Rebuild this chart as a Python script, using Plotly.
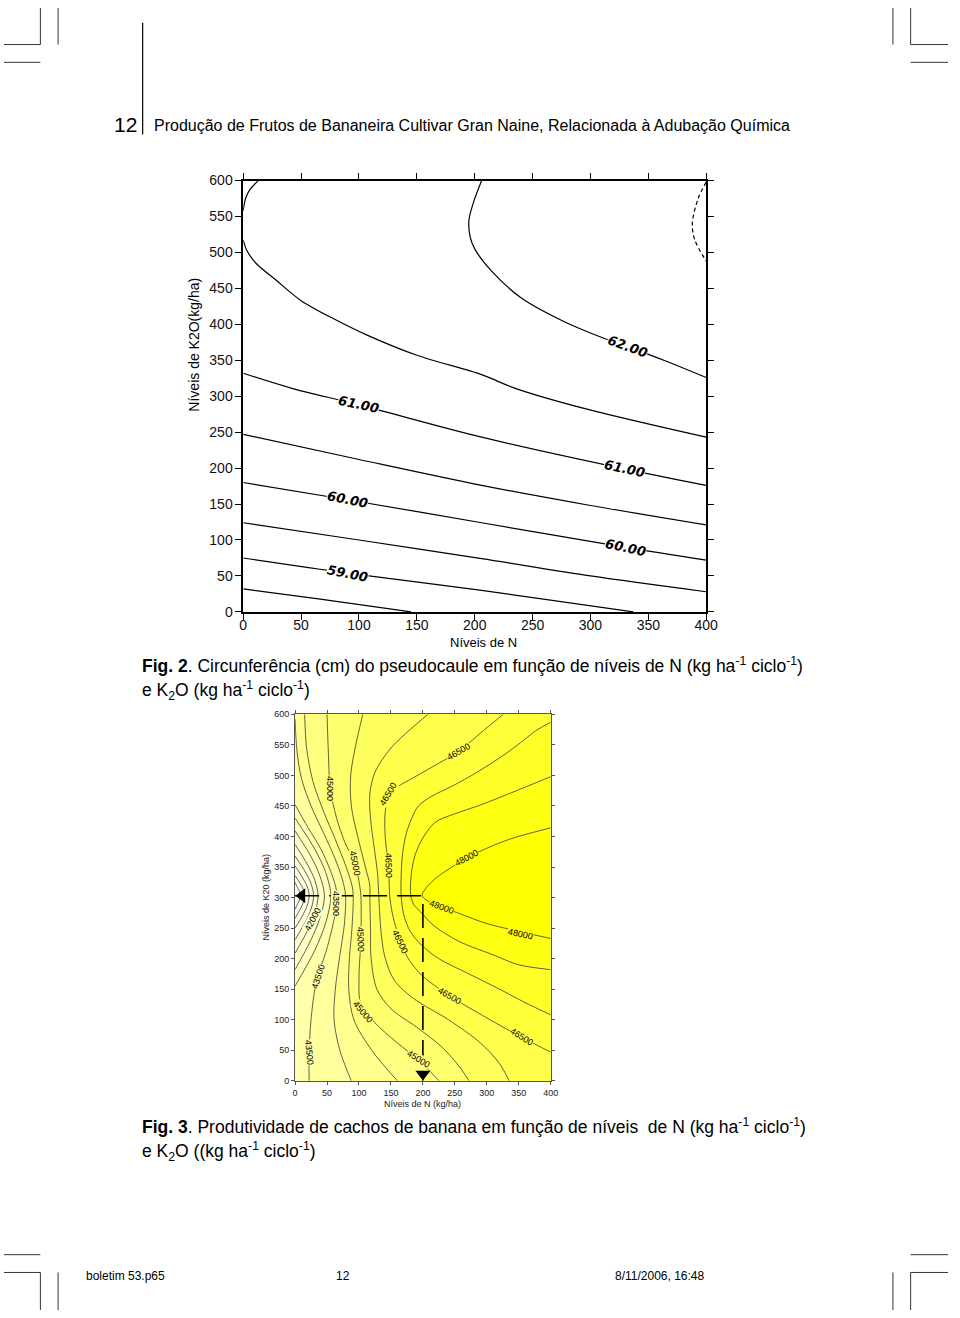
import plotly.graph_objects as go

PAGE_W, PAGE_H = 960, 1318
OFF = 0
W, H = PAGE_W - 2 * OFF, PAGE_H - 2 * OFF


def px(x):
    return (x - OFF) / W


def py(y):
    return 1 - (y - OFF) / H


# ---------------- Fig. 2 : circunferência (contour lines) ----------------
f2_xticks = [0, 50, 100, 150, 200, 250, 300, 350, 400]
f2_yticks = [0, 50, 100, 150, 200, 250, 300, 350, 400, 450, 500, 550, 600]

f2_5850_x = [0, 65, 145]
f2_5850_y = [32, 18, 0]
f2_5900_x = [0, 90, 206, 337]
f2_5900_y = [75, 54, 30, 0]
f2_5950_x = [0, 100, 206, 300, 400]
f2_5950_y = [124, 100, 74, 50, 28]
f2_6000_x = [0, 90, 206, 329, 400]
f2_6000_y = [180, 156, 124, 90, 72]
f2_6050_x = [0, 100, 206, 300, 400]
f2_6050_y = [247, 212, 176, 148, 121]
f2_6100_x = [0, 42, 100, 206, 329, 400]
f2_6100_y = [332, 311, 288, 243, 199, 176]
f2_6150_x = [0, 3, 11, 28, 50, 79, 107, 150, 206, 235, 297, 400]
f2_6150_y = [517, 503, 485, 462, 433, 407, 385, 357, 330, 311, 282, 243]
f2_6200a_x = [0, 2, 6, 13]
f2_6200a_y = [558, 575, 588, 600]
f2_6200b_x = [206, 199, 195, 196, 200, 214, 240, 277, 311, 332, 365, 400]
f2_6200b_y = [600, 570, 545, 522, 505, 475, 437, 404, 381, 369, 349, 326]
f2_6250_x = [400, 393, 388, 390, 400]
f2_6250_y = [598, 575, 540, 518, 488]

f2_lab_text = ["59.00", "60.00", "60.00", "61.00", "61.00", "62.00"]
f2_lab_x = [90, 90, 330, 100, 329, 332]
f2_lab_y = [53, 156, 89, 288, 199, 369]
f2_lab_ang = [11, 11, 12, 12, 12, 20]

# ---------------- Fig. 3 : produtividade (filled contours) ----------------
f3_xticks = [0, 50, 100, 150, 200, 250, 300, 350, 400]
f3_yticks = [0, 50, 100, 150, 200, 250, 300, 350, 400, 450, 500, 550, 600]
f3_levels = [40000, 40500, 41000, 41500, 42000, 42500, 43000, 43500, 44000, 44500,
             45000, 45500, 46000, 46500, 47000, 47500, 48000]

p40000_x = [0, 4, 7, 8, 7, 4, 0]
p40000_y = [325, 316, 310, 303, 296, 290, 281]
p40500_x = [0, 8, 13, 15, 13, 8, 0]
p40500_y = [336, 323, 313, 303, 292, 281, 266]
p41000_x = [0, 12, 19, 22, 19, 12, 0]
p41000_y = [352, 332, 318, 303, 287, 271, 250]
p41500_x = [0, 16, 25, 29, 25, 16, 0]
p41500_y = [368, 342, 323, 303, 281, 260, 231]
p42000_x = [0, 20, 31, 36, 31, 20, 0]
p42000_y = [387, 353, 328, 303, 275, 247, 209]
p42500_x = [0, 25, 39, 46, 39, 25, 0]
p42500_y = [409, 367, 335, 303, 267, 231, 182]
p43000_x = [0, 31, 48, 56, 48, 31, 0]
p43000_y = [430, 379, 341, 303, 259, 214, 155]
p43500_x = [0, 20, 40, 55, 63, 66, 64, 58, 48, 38, 31, 25, 22, 22]
p43500_y = [452, 415, 380, 345, 320, 303, 280, 250, 210, 180, 150, 100, 50, 0]
p44000_x = [0, 3, 10, 25, 45, 62, 74, 79, 77, 70, 63, 61, 70, 88]
p44000_y = [592, 540, 495, 450, 405, 365, 330, 303, 255, 205, 150, 100, 50, 0]
p44500_x = [15, 18, 28, 45, 63, 80, 89, 91, 89, 85, 84, 92, 120, 160]
p44500_y = [600, 545, 490, 440, 395, 350, 320, 303, 250, 200, 150, 100, 50, 0]
p45000_x = [50, 52, 55, 65, 78, 94, 101, 103, 103, 100, 103, 125, 160, 193, 225]
p45000_y = [600, 540, 479, 430, 390, 355, 320, 303, 231, 170, 125, 95, 62, 34, 0]
p45500_x = [106, 95, 87, 88, 98, 110, 117, 117, 118, 119, 128, 150, 190, 230, 258, 272]
p45500_y = [600, 550, 500, 450, 400, 350, 320, 303, 250, 200, 150, 118, 88, 55, 22, 0]
p46000_x = [208, 180, 150, 125, 117, 118, 124, 129, 131, 134, 140, 155, 185, 240, 290, 320, 335]
p46000_y = [600, 575, 545, 505, 470, 430, 380, 340, 303, 250, 205, 165, 135, 100, 62, 28, 0]
p46500_x = [326, 300, 255, 215, 183, 160, 147, 141, 141, 145, 147, 148, 152, 158, 165, 176,
            198, 242, 300, 355, 400]
p46500_y = [600, 578, 539, 514, 495, 481, 466, 440, 400, 360, 330, 303, 275, 250, 228, 202,
            173, 139, 103, 71, 47]
p47000_x = [400, 378, 337, 286, 245, 214, 193, 183, 174, 168, 166, 166, 170, 180, 198, 225,
            270, 320, 360, 400]
p47000_y = [587, 574, 541, 506, 482, 466, 450, 431, 405, 370, 335, 303, 272, 245, 222, 200,
            176, 150, 128, 108]
p47500_x = [400, 337, 286, 255, 219, 199, 188, 182, 181, 186, 196, 216, 257, 308, 350, 400]
p47500_y = [498, 471, 450, 439, 423, 396, 370, 340, 303, 288, 277, 255, 228, 207, 190, 182]
p48000_x = [400, 337, 286, 250, 214, 199, 216, 257, 298, 340, 400]
p48000_y = [414, 396, 374, 353, 326, 303, 290, 274, 258, 247, 233]

f3_lab_text = ["45000", "45000", "45000", "45000", "45000",
               "46500", "46500", "46500", "46500", "46500", "46500",
               "48000", "48000", "48000", "43500", "43500", "43500", "42000"]
f3_lab_x = [55, 94, 103, 106, 193, 146, 255, 146, 165, 242, 355, 268, 229, 352, 65, 36, 22, 28]
f3_lab_y = [479, 357, 231, 112, 36, 469, 539, 353, 228, 139, 71, 365, 284, 241, 290, 170, 47, 265]
f3_lab_ang = [90, 78, 88, 50, 32, -60, -30, 88, 65, 30, 32, -28, 20, 12, 90, -72, 84, -62]

# optimum point marked by the dashed guides
opt_N = 200
opt_K = 303

# ---------------------------------------------------------------------------
f3_lines = [
    (40000, p40000_x, p40000_y, "arc"), (40500, p40500_x, p40500_y, "arc"),
    (41000, p41000_x, p41000_y, "arc"), (41500, p41500_x, p41500_y, "arc"),
    (42000, p42000_x, p42000_y, "arc"), (42500, p42500_x, p42500_y, "arc"),
    (43000, p43000_x, p43000_y, "arc"), (43500, p43500_x, p43500_y, "leftbottom"),
    (44000, p44000_x, p44000_y, "leftbottom"), (44500, p44500_x, p44500_y, "topbottom"),
    (45000, p45000_x, p45000_y, "topbottom"), (45500, p45500_x, p45500_y, "topbottom"),
    (46000, p46000_x, p46000_y, "topbottom"), (46500, p46500_x, p46500_y, "topright"),
    (47000, p47000_x, p47000_y, "rightright"), (47500, p47500_x, p47500_y, "rightright"),
    (48000, p48000_x, p48000_y, "rightright"),
]

nb = len(f3_levels)


def band_color(i):
    t = max(0.0, min(1.0, i / nb))
    b = round(242 * (1 - t ** 1.4))
    return f"rgb(255,255,{b})"


fig = go.Figure()

# ---- Fig 2 lines
f2_lines = [(f2_5850_x, f2_5850_y, "solid"), (f2_5900_x, f2_5900_y, "solid"),
            (f2_5950_x, f2_5950_y, "solid"), (f2_6000_x, f2_6000_y, "solid"),
            (f2_6050_x, f2_6050_y, "solid"), (f2_6100_x, f2_6100_y, "solid"),
            (f2_6150_x, f2_6150_y, "solid"), (f2_6200a_x, f2_6200a_y, "solid"),
            (f2_6200b_x, f2_6200b_y, "solid"), (f2_6250_x, f2_6250_y, "dash")]
for xs, ys, dash in f2_lines:
    fig.add_trace(go.Scatter(x=xs, y=ys, mode="lines", xaxis="x", yaxis="y",
                             line=dict(color="black", width=1.2, shape="spline",
                                       smoothing=0.9, dash=dash if dash == "solid" else "4px,3px"),
                             hoverinfo="skip", showlegend=False))

# ---- Fig 3 filled bands
lo, hi = -60, 660
xlo, xhi = -60, 460
fig.add_trace(go.Scatter(x=[xlo, xhi, xhi, xlo, xlo], y=[lo, lo, hi, hi, lo], mode="lines",
                         fill="toself", fillcolor=band_color(nb), line=dict(width=0),
                         xaxis="x2", yaxis="y2", hoverinfo="skip", showlegend=False))
for idx in range(len(f3_lines) - 1, -1, -1):
    lev, xs, ys, kind = f3_lines[idx]
    xs = list(xs)
    ys = list(ys)
    if kind == "arc" or kind == "leftbottom":
        px_ = xs + [xlo, xlo]
        py_ = ys + [lo if kind == "leftbottom" else ys[-1], ys[0]]
    elif kind == "topbottom":
        px_ = xs + [xlo, xlo, xs[0]]
        py_ = ys + [lo, hi, hi]
    elif kind == "topright":
        px_ = xs + [xhi, xlo, xlo, xs[0]]
        py_ = ys + [lo, lo, hi, hi]
    else:  # rightright
        px_ = xs + [xhi, xlo, xlo, xhi]
        py_ = ys + [lo, lo, hi, hi]
    px_ = px_ + [px_[0]]
    py_ = py_ + [py_[0]]
    fig.add_trace(go.Scatter(x=px_, y=py_, mode="lines", fill="toself",
                             fillcolor=band_color(idx), line=dict(width=0, shape="spline", smoothing=0.9),
                             xaxis="x2", yaxis="y2", hoverinfo="skip", showlegend=False))

for lev, xs, ys, kind in f3_lines:
    fig.add_trace(go.Scatter(x=xs, y=ys, mode="lines", xaxis="x2", yaxis="y2",
                             line=dict(color="#3c3c2c", width=0.8, shape="spline", smoothing=0.9),
                             hoverinfo="skip", showlegend=False))

# dashed guides to optimum
x3_min, y3_min = 0, 0
fig.add_trace(go.Scatter(x=[x3_min, opt_N, opt_N], y=[opt_K, opt_K, y3_min], mode="lines",
                         xaxis="x2", yaxis="y2",
                         line=dict(color="black", width=1.6, dash="24px,10px"),
                         hoverinfo="skip", showlegend=False))
x_unit_px = 260 / 400
y_unit_px = 371 / 600
fig.add_trace(go.Scatter(x=[x3_min + 7 / x_unit_px], y=[opt_K], mode="markers", xaxis="x2", yaxis="y2",
                         marker=dict(symbol="triangle-left", size=13, color="black"),
                         cliponaxis=False, hoverinfo="skip", showlegend=False))
fig.add_trace(go.Scatter(x=[opt_N], y=[y3_min + 7 / y_unit_px], mode="markers", xaxis="x2", yaxis="y2",
                         marker=dict(symbol="triangle-down", size=13, color="black"),
                         cliponaxis=False, hoverinfo="skip", showlegend=False))

annotations = []
for t, x, y, a in zip(f2_lab_text, f2_lab_x, f2_lab_y, f2_lab_ang):
    annotations.append(dict(x=x, y=y, xref="x", yref="y", text=t, showarrow=False,
                            textangle=a, bgcolor="white", borderpad=0,
                            font=dict(family="DejaVu Sans", size=13, color="black",
                                      weight="bold", style="italic")))
for t, x, y, a in zip(f3_lab_text, f3_lab_x, f3_lab_y, f3_lab_ang):
    li = f3_levels.index(int(t))
    annotations.append(dict(x=x, y=y, xref="x2", yref="y2", text=t, showarrow=False,
                            textangle=a, bgcolor=band_color(li + 0.5), borderpad=0,
                            font=dict(family="Liberation Sans, Arial", size=9, color="black")))

plain = "Liberation Sans, Arial, sans-serif"


def txt(x, y, s, size, family=plain, anchor="left", angle=0, color="black"):
    annotations.append(dict(x=px(x), y=py(y), xref="paper", yref="paper", text=s,
                            showarrow=False, xanchor=anchor, yanchor="middle",
                            textangle=angle, font=dict(family=family, size=size, color=color)))


txt(110, 118, "12", 21)
txt(150, 119, "Produção de Frutos de Bananeira Cultivar Gran Naine, Relacionada à Adubação Química", 16)
txt(193, 341, "Níveis de K2O(kg/ha)", 14, plain, "center", -90)
txt(488, 642, "Níveis de N", 13, plain, "center")
txt(138, 665, "<b>Fig. 2</b>. Circunferência (cm) do pseudocaule em função de níveis de N (kg ha<sup>-1</sup> ciclo<sup>-1</sup>)", 17.5)
txt(138, 691, "e K<sub>2</sub>O (kg ha<sup>-1</sup> ciclo<sup>-1</sup>)", 17.5)
txt(267, 900, "Níveis de K20 (kg/ha)", 9, plain, "center", -90, "#222")
txt(426, 1109, "Níveis de N (kg/ha)", 9, plain, "center", 0, "#222")
txt(138, 1132, "<b>Fig. 3</b>. Produtividade de cachos de banana em função de níveis  de N (kg ha<sup>-1</sup> ciclo<sup>-1</sup>)", 17.5)
txt(138, 1158, "e K<sub>2</sub>O ((kg ha<sup>-1</sup> ciclo<sup>-1</sup>)", 17.5)
txt(81, 1284, "boletim 53.p65", 12)
txt(336, 1284, "12", 12)
txt(619, 1284, "8/11/2006, 16:48", 12)

shapes = []


def seg(x0, y0, x1, y1, w=1, c="#333"):
    shapes.append(dict(type="line", xref="paper", yref="paper", x0=px(x0), y0=py(y0),
                       x1=px(x1), y1=py(y1), line=dict(color=c, width=w)))


# crop marks and header rule
seg(37, 0, 37, 37); seg(0, 37, 37, 37); seg(55, 0, 55, 37); seg(0, 55, 37, 55)
seg(904, 0, 904, 37); seg(922, 0, 922, 37); seg(922, 37, 960, 37); seg(922, 55, 960, 55)
seg(0, 1262, 37, 1262); seg(0, 1280, 37, 1280); seg(37, 1280, 37, 1318); seg(55, 1280, 55, 1318)
seg(922, 1262, 960, 1262); seg(922, 1280, 960, 1280); seg(922, 1280, 922, 1318); seg(904, 1280, 904, 1318)
seg(141, 15, 141, 128, 1.2, "black")

ax1 = dict(showgrid=False, zeroline=False, showline=True, linecolor="black", linewidth=1.5,
           mirror="ticks", ticks="outside", ticklen=6, tickwidth=1.3, tickcolor="black",
           tickfont=dict(family=plain, size=14, color="#111"))
ax2 = dict(showgrid=False, zeroline=False, showline=True, linecolor="#555", linewidth=1,
           mirror="ticks", ticks="outside", ticklen=3, tickwidth=1, tickcolor="#555",
           tickfont=dict(family=plain, size=9, color="#222"))

fig.update_layout(
    width=W, height=H, autosize=False, margin=dict(l=0, r=0, t=0, b=0),
    paper_bgcolor="white", plot_bgcolor="white", showlegend=False,
    xaxis=dict(ax1, domain=[px(243.3), px(714.1)], range=[0, 400], tickvals=f2_xticks, anchor="y",
               ticklabelstandoff=-6),
    yaxis=dict(ax1, domain=[py(611.3), py(174.7)], range=[0, 600], tickvals=f2_yticks, anchor="x"),
    xaxis2=dict(ax2, domain=[px(296), px(556)], range=[0, 400], tickvals=f3_xticks, anchor="y2"),
    yaxis2=dict(ax2, domain=[py(1086), py(715)], range=[0, 600], tickvals=f3_yticks, anchor="x2"),
    annotations=annotations, shapes=shapes,
)

fig.write_html("out.html", config={"displayModeBar": False},
               post_script=("document.documentElement.style.overflow='hidden';"
                            "document.body.style.overflow='hidden';"
                            "document.body.style.margin='0';"))
